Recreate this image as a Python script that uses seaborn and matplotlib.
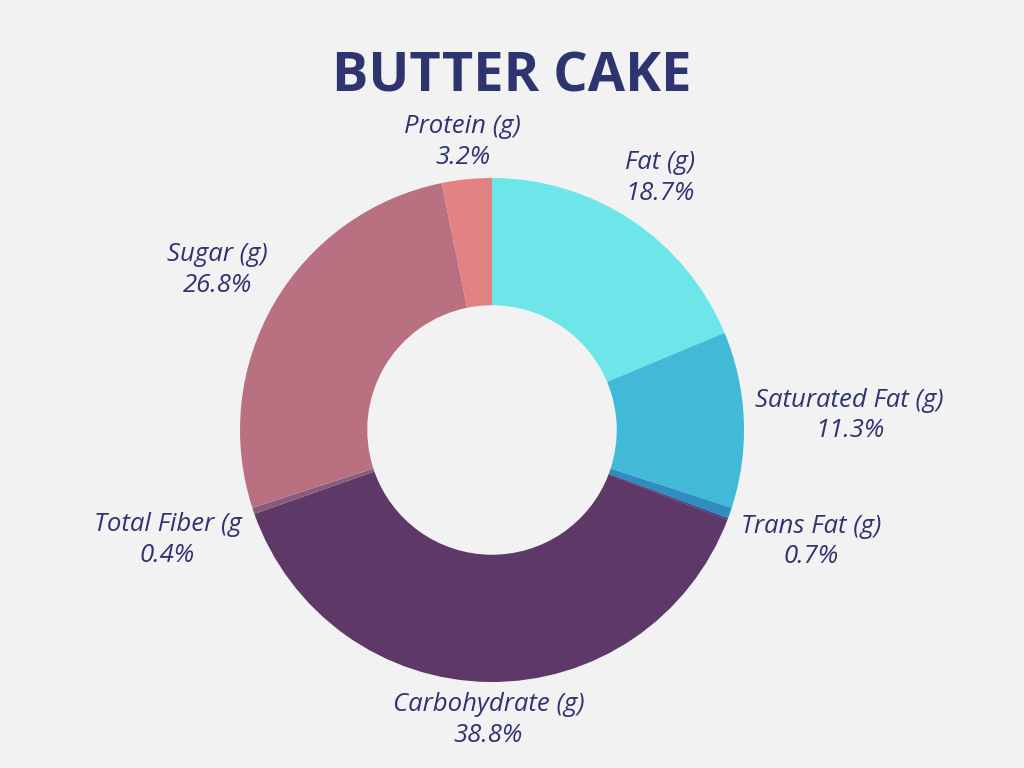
import numpy as np
import matplotlib.pyplot as plt
import seaborn as sns

# nutrition share of a butter cake, clockwise from 12 o'clock
labels = ["Fat (g)", "Saturated Fat (g)", "Trans Fat (g)", "", "Carbohydrate (g)",
          "Total Fiber (g", "Sugar (g)", "Protein (g)"]
shares = [18.7, 11.3, 0.7, 0.1, 38.8, 0.4, 26.8, 3.2]
colors = ["#6CE6E8", "#42B9D6", "#2F8EBF", "#35327A", "#5E3866",
          "#8A5A7D", "#B97182", "#E28282"]
# how far out each label sits (in radii)
label_dist = [1.2, 1.42, 1.34, 0, 1.15, 1.36, 1.26, 1.15]

bg = "#F2F2F2"
ink = "#2E3470"

sns.set_theme(style="white", rc={"figure.facecolor": bg, "axes.facecolor": bg})
plt.rcParams['font.family'] = ['Open Sans', 'DejaVu Sans']

fig = plt.figure(figsize=(10.24, 7.68), dpi=100)
ax = fig.add_axes([0, 0, 1, 1])

wedges, _ = ax.pie(shares, colors=colors, startangle=90, counterclock=False,
                   radius=1.0, wedgeprops=dict(width=0.505, linewidth=0))

for w, lab, val, d in zip(wedges, labels, shares, label_dist):
    if not lab:
        continue
    ang = np.deg2rad((w.theta1 + w.theta2) / 2)
    ax.text(d * np.cos(ang), d * np.sin(ang), "%s\n%.1f%%" % (lab, val),
            ha="center", va="center", fontsize=18.5, style="italic",
            color=ink, linespacing=1.3)

# center of donut at (492, 430) px, outer radius 252 px
R = 252.0
ax.set_xlim(-492 / R, (1024 - 492) / R)
ax.set_ylim(-(768 - 430) / R, 430 / R)
ax.set_aspect("auto")
ax.axis("off")

fig.text(0.5, 1 - 77 / 768, "BUTTER CAKE", ha="center", va="center",
         fontsize=39, fontweight="bold", color=ink)

fig.savefig("out.png", dpi=100, facecolor=bg)
